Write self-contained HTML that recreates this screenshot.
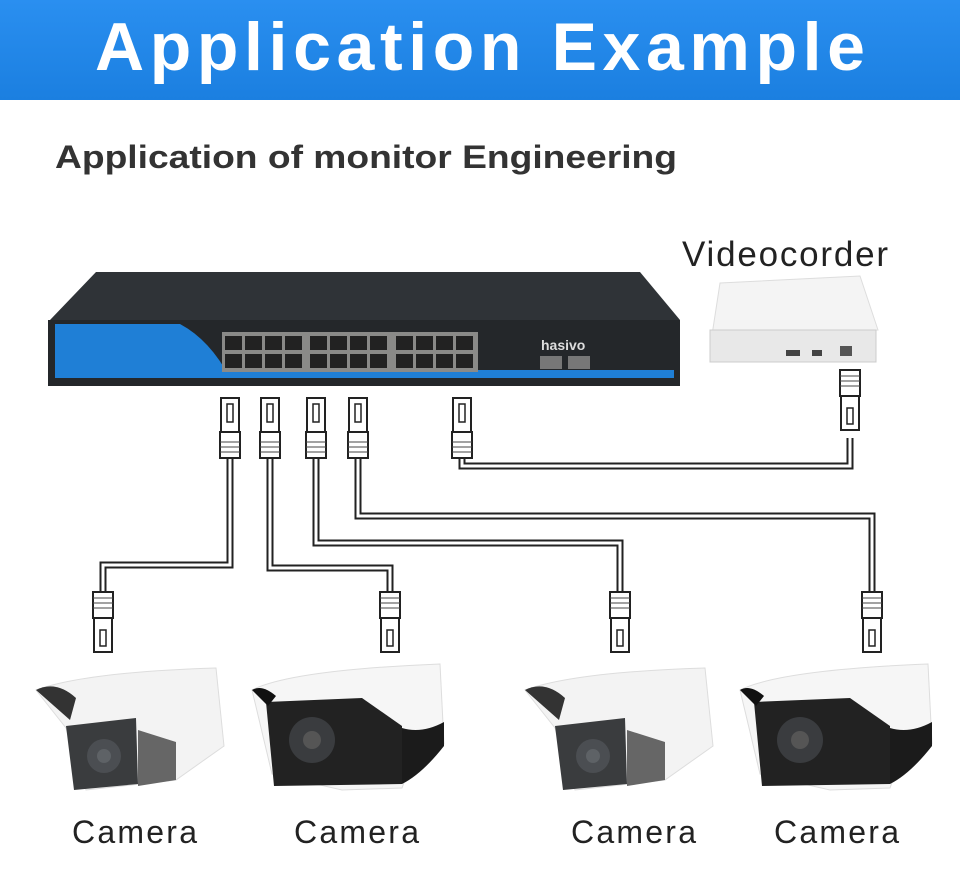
<!DOCTYPE html>
<html><head><meta charset="utf-8"><style>
body{margin:0;background:#fff;}
svg{display:block}
text{font-family:"Liberation Sans","DejaVu Sans",sans-serif}
</style></head><body>
<svg width="960" height="881" viewBox="0 0 960 881" xmlns="http://www.w3.org/2000/svg">
<defs>
<linearGradient id="hb" x1="0" y1="0" x2="0" y2="1"><stop offset="0" stop-color="#2a8ff0"/><stop offset="1" stop-color="#1b7fe0"/></linearGradient>
<g id="plugU">
 <path d="M-9,0 h18 v34 h-18z" fill="#fff" stroke="#222" stroke-width="2"/>
 <path d="M-3,6 h6 v18 h-6z" fill="#fff" stroke="#222" stroke-width="1.5"/>
 <path d="M-10,34 h20 v26 h-20z" fill="#fff" stroke="#222" stroke-width="2"/>
 <path d="M-10,44 h20 M-10,49 h20 M-10,54 h20" stroke="#444" stroke-width="1"/>
</g>
<g id="plugD">
 <path d="M-10,0 h20 v26 h-20z" fill="#fff" stroke="#222" stroke-width="2"/>
 <path d="M-10,6 h20 M-10,11 h20 M-10,16 h20" stroke="#444" stroke-width="1"/>
 <path d="M-9,26 h18 v34 h-18z" fill="#fff" stroke="#222" stroke-width="2"/>
 <path d="M-3,38 h6 v16 h-6z" fill="#fff" stroke="#222" stroke-width="1.5"/>
</g>
<g id="camA">
 <path d="M10,22 Q60,4 190,0 L198,78 L150,112 L60,122 L40,60 Z" fill="#f3f3f3" stroke="#ddd"/>
 <path d="M40,58 L110,50 L112,116 L48,122 Z" fill="#3a3c3e"/>
 <circle cx="78" cy="88" r="17" fill="#4b4e52"/><circle cx="78" cy="88" r="7" fill="#5e6266"/>
 <path d="M112,62 L150,74 L150,112 L112,118Z" fill="#666"/>
 <path d="M10,22 Q30,12 50,30 L44,52 Z" fill="#333"/>
</g>
<g id="camB">
 <path d="M0,26 Q40,6 188,0 L192,80 L160,96 L150,124 L90,126 L20,110 Z" fill="#f6f6f6" stroke="#ddd"/>
 <path d="M14,38 L110,34 L150,62 L150,120 L22,122 Z" fill="#222"/>
 <circle cx="60" cy="76" r="23" fill="#3a3c3f"/><circle cx="60" cy="76" r="9" fill="#555"/>
 <path d="M150,64 Q170,70 192,58 L192,82 Q170,110 150,120Z" fill="#1b1b1b"/>
 <path d="M0,26 Q10,20 24,32 L16,42Z" fill="#111"/>
</g>
</defs>
<rect x="0" y="0" width="960" height="100" fill="url(#hb)"/>
<text x="95" y="70" font-size="68" font-weight="bold" fill="#fff" textLength="770" lengthAdjust="spacing">Application  Example</text>
<text x="55" y="168" font-size="32" font-weight="bold" fill="#333" textLength="622" lengthAdjust="spacingAndGlyphs">Application of monitor Engineering</text>
<text x="682" y="266" font-size="35" fill="#222" textLength="206" lengthAdjust="spacing">Videocorder</text>

<!-- switch -->
<path d="M96,272 L640,272 L680,320 L50,320 Z" fill="#2f3337"/>
<rect x="48" y="320" width="632" height="66" fill="#24272a"/>
<path d="M55,324 L180,324 Q210,340 230,378 L55,378 Z" fill="#1f7fd6"/>
<rect x="222" y="370" width="452" height="8" fill="#1f7fd6"/>
<rect x="222" y="332" width="256" height="40" fill="#8a8a88"/>
<g fill="#222">
<rect x="225" y="336" width="17" height="14"/><rect x="245" y="336" width="17" height="14"/><rect x="265" y="336" width="17" height="14"/><rect x="285" y="336" width="17" height="14"/>
<rect x="310" y="336" width="17" height="14"/><rect x="330" y="336" width="17" height="14"/><rect x="350" y="336" width="17" height="14"/><rect x="370" y="336" width="17" height="14"/>
<rect x="396" y="336" width="17" height="14"/><rect x="416" y="336" width="17" height="14"/><rect x="436" y="336" width="17" height="14"/><rect x="456" y="336" width="17" height="14"/>
<rect x="225" y="354" width="17" height="14"/><rect x="245" y="354" width="17" height="14"/><rect x="265" y="354" width="17" height="14"/><rect x="285" y="354" width="17" height="14"/>
<rect x="310" y="354" width="17" height="14"/><rect x="330" y="354" width="17" height="14"/><rect x="350" y="354" width="17" height="14"/><rect x="370" y="354" width="17" height="14"/>
<rect x="396" y="354" width="17" height="14"/><rect x="416" y="354" width="17" height="14"/><rect x="436" y="354" width="17" height="14"/><rect x="456" y="354" width="17" height="14"/>
</g>
<rect x="540" y="356" width="22" height="13" fill="#777"/><rect x="568" y="356" width="22" height="13" fill="#777"/>
<text x="541" y="350" font-size="14" font-weight="bold" fill="#ddd">hasivo</text>

<!-- videocorder -->
<path d="M720,283 L860,276 L878,330 L712,335 Z" fill="#f4f4f4" stroke="#ddd"/>
<rect x="710" y="330" width="166" height="32" fill="#e8e8e8" stroke="#ccc"/>
<rect x="786" y="350" width="14" height="6" fill="#444"/><rect x="812" y="350" width="10" height="6" fill="#444"/><rect x="840" y="346" width="12" height="10" fill="#555"/>

<!-- cables -->
<g fill="none" stroke-linejoin="miter">
<g stroke="#222" stroke-width="7">
<path d="M230,458 V565 H103 V592"/>
<path d="M270,458 V568 H390 V592"/>
<path d="M316,458 V543 H620 V592"/>
<path d="M358,458 V516 H872 V592"/>
<path d="M462,458 V466 H850 V438"/>
</g>
<g stroke="#fff" stroke-width="3">
<path d="M230,458 V565 H103 V592"/>
<path d="M270,458 V568 H390 V592"/>
<path d="M316,458 V543 H620 V592"/>
<path d="M358,458 V516 H872 V592"/>
<path d="M462,458 V466 H850 V438"/>
</g>
</g>
<use href="#plugU" x="230" y="398"/>
<use href="#plugU" x="270" y="398"/>
<use href="#plugU" x="316" y="398"/>
<use href="#plugU" x="358" y="398"/>
<use href="#plugU" x="462" y="398"/>
<use href="#plugD" x="850" y="370"/>
<use href="#plugD" x="103" y="592"/>
<use href="#plugD" x="390" y="592"/>
<use href="#plugD" x="620" y="592"/>
<use href="#plugD" x="872" y="592"/>

<!-- cameras -->
<use href="#camA" x="26" y="668"/>
<use href="#camB" x="252" y="664"/>
<use href="#camA" x="515" y="668"/>
<use href="#camB" x="740" y="664"/>

<g font-size="32" fill="#222">
<text x="72" y="843" textLength="125" lengthAdjust="spacing">Camera</text>
<text x="294" y="843" textLength="125" lengthAdjust="spacing">Camera</text>
<text x="571" y="843" textLength="125" lengthAdjust="spacing">Camera</text>
<text x="774" y="843" textLength="125" lengthAdjust="spacing">Camera</text>
</g>
</svg>
</body></html>
